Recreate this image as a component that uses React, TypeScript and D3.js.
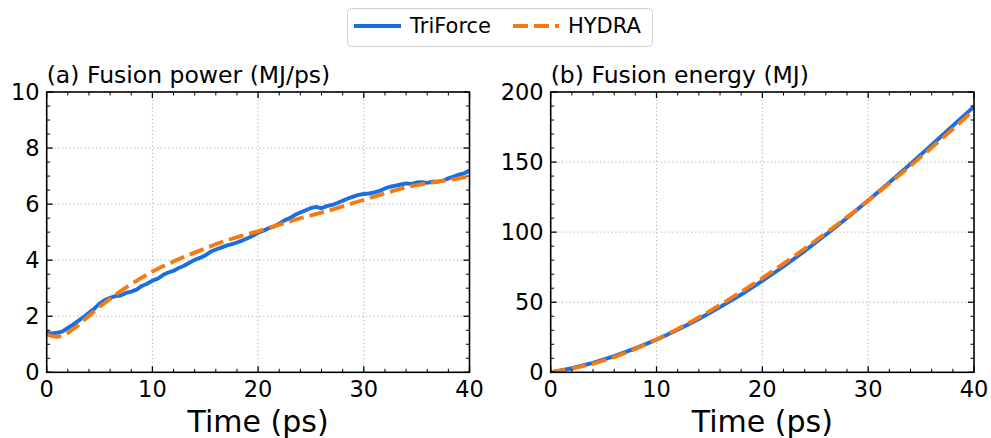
import React from "react";
import * as d3 from "d3";

const powerT = d3.range(0, 40.001, 0.5);
const triForcePower = [
  1.40, 1.39, 1.41, 1.46, 1.58, 1.70, 1.84, 1.97, 2.12, 2.27,
  2.45, 2.58, 2.66, 2.72, 2.74, 2.83, 2.88, 2.95, 3.08, 3.16,
  3.27, 3.34, 3.47, 3.56, 3.62, 3.72, 3.80, 3.91, 4.01, 4.08,
  4.17, 4.30, 4.38, 4.45, 4.52, 4.57, 4.63, 4.70, 4.78, 4.87,
  4.98, 5.05, 5.14, 5.20, 5.30, 5.42, 5.50, 5.62, 5.70, 5.78,
  5.86, 5.90, 5.85, 5.93, 5.97, 6.04, 6.12, 6.20, 6.27, 6.33,
  6.36, 6.38, 6.42, 6.47, 6.56, 6.62, 6.66, 6.70, 6.74, 6.72,
  6.77, 6.78, 6.76, 6.80, 6.80, 6.84, 6.92, 6.98, 7.05, 7.10, 7.20,
];
const hydraPowerT = [0, 0.5, 1, 1.5, 2, 3, 4, 5, 6, 7, 8, 9, 10, 11, 12, 13, 14, 15, 16, 17, 18, 19, 20, 21, 22, 23, 24, 25, 26, 27, 28, 29, 30, 31, 32, 33, 34, 35, 36, 37, 38, 39, 40];
const hydraPower = [
  1.35, 1.29, 1.27, 1.30, 1.40, 1.68, 2.02, 2.34, 2.62, 2.90, 3.15, 3.38, 3.60,
  3.78, 3.95, 4.12, 4.27, 4.42, 4.57, 4.70, 4.82, 4.93, 5.03, 5.15, 5.27, 5.38,
  5.50, 5.60, 5.70, 5.80, 5.92, 6.04, 6.15, 6.27, 6.38, 6.50, 6.60, 6.68, 6.74,
  6.80, 6.86, 6.92, 6.98,
];
const energyT = [0, 2, 4, 6, 8, 10, 12, 14, 16, 18, 20, 22, 24, 26, 28, 30, 32, 34, 36, 38, 40];
const triForceEnergy = [0, 2.9, 6.7, 11.5, 17.1, 23.3, 30.3, 38.0, 46.5, 55.5, 65.2, 75.5, 86.5, 98.1, 110.1, 122.5, 135.4, 148.7, 162.2, 175.9, 189.6];
const hydraEnergy = [0, 2.6, 6.1, 10.8, 16.6, 23.4, 30.9, 39.1, 48.0, 57.4, 67.2, 77.5, 88.2, 99.3, 110.7, 122.5, 134.7, 147.3, 160.3, 173.6, 187.2];

const xTicks = [0, 10, 20, 30, 40];
const powerTicks = [0, 2, 4, 6, 8, 10];
const energyTicks = [0, 50, 100, 150, 200];

const BLUE = "#1a6fdf";
const ORANGE = "#f7790f";
const FONT = "DejaVu Sans, sans-serif";
const DASH = "15 6";

type PanelProps = {
  left: number;
  right: number;
  title: string;
  yMax: number;
  yTicks: number[];
  yMinor: number;
  series: { t: number[]; v: number[]; color: string; dash?: string }[];
};

function Panel({ left, right, title, yMax, yTicks, yMinor, series }: PanelProps) {
  const top = 92;
  const bottom = 372.3;
  const x = d3.scaleLinear().domain([0, 40]).range([left, right]);
  const y = d3.scaleLinear().domain([0, yMax]).range([bottom, top]);
  const xMinor = d3.range(0, 40.001, 2).filter((v) => v % 10 !== 0);
  const yMinorTicks = d3.range(0, yMax + 1e-6, yMinor).filter((v) => !yTicks.some((t) => Math.abs(t - v) < 1e-6));
  const line = d3.line<[number, number]>().x((d) => x(d[0])).y((d) => y(d[1])).curve(d3.curveLinear);
  const maj = 6;
  const mnr = 3.5;
  return (
    <g>
      <defs>
        <clipPath id={`clip${left}`}>
          <rect x={left} y={top} width={right - left} height={bottom - top} />
        </clipPath>
      </defs>
      {xTicks.slice(1, -1).map((t) => (
        <line key={"gx" + t} x1={x(t)} x2={x(t)} y1={top} y2={bottom} stroke="#b0b0b0" strokeWidth={1} strokeDasharray="1.2 2.6" />
      ))}
      {yTicks.slice(1, -1).map((t) => (
        <line key={"gy" + t} x1={left} x2={right} y1={y(t)} y2={y(t)} stroke="#b0b0b0" strokeWidth={1} strokeDasharray="1.2 2.6" />
      ))}
      <g clipPath={`url(#clip${left})`}>
        {series.map((s, i) => (
          <path
            key={i}
            d={line(s.t.map((t, j) => [t, s.v[j]] as [number, number])) || ""}
            fill="none"
            stroke={s.color}
            strokeWidth={3.9}
            strokeDasharray={s.dash}
            strokeLinejoin="round"
          />
        ))}
      </g>
      {xTicks.map((t) => (
        <g key={"xt" + t}>
          <line x1={x(t)} x2={x(t)} y1={bottom} y2={bottom - maj} stroke="#000" strokeWidth={1.3} />
          <line x1={x(t)} x2={x(t)} y1={top} y2={top + maj} stroke="#000" strokeWidth={1.3} />
          <text x={x(t)} y={397} fontSize={22.5} fontFamily={FONT} textAnchor="middle">{t}</text>
        </g>
      ))}
      {xMinor.map((t) => (
        <g key={"xm" + t}>
          <line x1={x(t)} x2={x(t)} y1={bottom} y2={bottom - mnr} stroke="#000" strokeWidth={1} />
          <line x1={x(t)} x2={x(t)} y1={top} y2={top + mnr} stroke="#000" strokeWidth={1} />
        </g>
      ))}
      {yTicks.map((t) => (
        <g key={"yt" + t}>
          <line x1={left} x2={left + maj} y1={y(t)} y2={y(t)} stroke="#000" strokeWidth={1.3} />
          <line x1={right} x2={right - maj} y1={y(t)} y2={y(t)} stroke="#000" strokeWidth={1.3} />
          <text x={left - 7} y={y(t) + 8} fontSize={22.5} fontFamily={FONT} textAnchor="end">{t}</text>
        </g>
      ))}
      {yMinorTicks.map((t) => (
        <g key={"ym" + t}>
          <line x1={left} x2={left + mnr} y1={y(t)} y2={y(t)} stroke="#000" strokeWidth={1} />
          <line x1={right} x2={right - mnr} y1={y(t)} y2={y(t)} stroke="#000" strokeWidth={1} />
        </g>
      ))}
      <rect x={left} y={top} width={right - left} height={bottom - top} fill="none" stroke="#000" strokeWidth={1.6} />
      <text x={left} y={83} fontSize={23.5} fontFamily={FONT}>{title}</text>
      <text x={(left + right) / 2} y={432} fontSize={30} fontFamily={FONT} textAnchor="middle">Time (ps)</text>
    </g>
  );
}

export default function App() {
  return (
    <svg width={991} height={438} style={{ position: "absolute", left: 0, top: 0, background: "#fff" }}>
      <rect width={991} height={438} fill="#fff" />
      <Panel
        left={46.7}
        right={469.5}
        title="(a) Fusion power (MJ/ps)"
        yMax={10}
        yTicks={powerTicks}
        yMinor={0.5}
        series={[
          { t: powerT, v: triForcePower, color: BLUE },
          { t: hydraPowerT, v: hydraPower, color: ORANGE, dash: DASH },
        ]}
      />
      <Panel
        left={550.7}
        right={974}
        title="(b) Fusion energy (MJ)"
        yMax={200}
        yTicks={energyTicks}
        yMinor={10}
        series={[
          { t: energyT, v: triForceEnergy, color: BLUE },
          { t: energyT, v: hydraEnergy, color: ORANGE, dash: DASH },
        ]}
      />
      <g>
        <rect x={347.5} y={8.5} width={305} height={38} rx={4} fill="#fff" stroke="#d0d0d0" strokeWidth={1} />
        <line x1={354} x2={401} y1={26} y2={26} stroke={BLUE} strokeWidth={3.9} />
        <text x={410} y={33} fontSize={21} fontFamily={FONT}>TriForce</text>
        <line x1={513} x2={559} y1={26} y2={26} stroke={ORANGE} strokeWidth={3.9} strokeDasharray={DASH} />
        <text x={568} y={33} fontSize={21} fontFamily={FONT}>HYDRA</text>
      </g>
    </svg>
  );
}
